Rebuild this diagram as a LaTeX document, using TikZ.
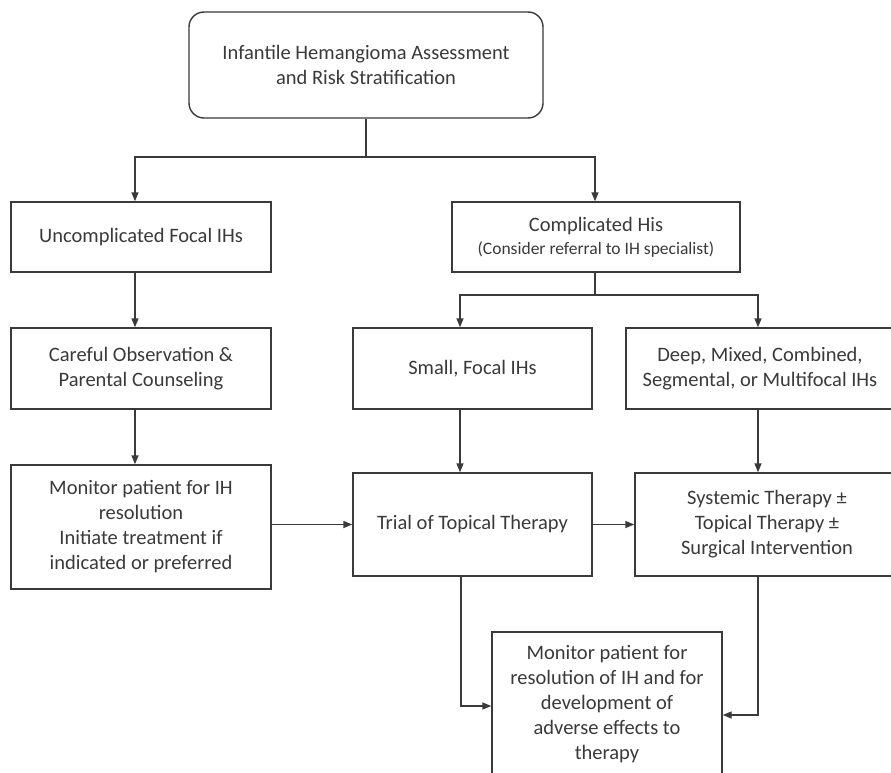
\documentclass[tikz,border=0pt]{standalone}
\usepackage{fontspec}
\setmainfont{Carlito}
\usepackage{tikz}
\usetikzlibrary{arrows.meta}

\definecolor{ink}{HTML}{3A3A3A}
\tikzset{
  box/.style={draw=ink,line width=1.4pt,text=ink,align=center,inner sep=0pt,
    font=\fontsize{20.5}{25}\selectfont},
  flow/.style={draw=ink,line width=1.4pt,-{Triangle[length=9pt,width=7pt]}}
}

\begin{document}
\begin{tikzpicture}[x=1pt,y=-1pt]
\useasboundingbox [fill=white] (0,0) rectangle (891,773);
\node [box,rounded corners=15pt,minimum width=354pt,minimum height=106pt] (assess) at (366,65)
  {Infantile Hemangioma Assessment\\and Risk Stratification};
\node [box,minimum width=260pt,minimum height=70pt] (uncomp) at (141,237) {Uncomplicated Focal IHs};
\node [box,minimum width=288pt,minimum height=70pt] (comp) at (596,237)
  {Complicated His\\[-2pt]{\fontsize{17.5}{22}\selectfont (Consider referral to IH specialist)}};
\node [box,minimum width=260pt,minimum height=81pt] (observe) at (141,368.5)
  {Careful Observation \&\\Parental Counseling};
\node [box,minimum width=239pt,minimum height=81pt] (small) at (472.5,368.5) {Small, Focal IHs};
\node [box,minimum width=268pt,minimum height=81pt] (deep) at (760,368.5)
  {Deep, Mixed, Combined,\\Segmental, or Multifocal IHs};
\node [box,minimum width=260pt,minimum height=124pt] (watch) at (141,527)
  {Monitor patient for IH\\resolution\\Initiate treatment if\\indicated or preferred};
\node [box,minimum width=239pt,minimum height=103pt] (topical) at (472.5,524.5) {Trial of Topical Therapy};
\node [box,minimum width=264pt,minimum height=103pt] (systemic) at (767,524.5)
  {Systemic Therapy \textpm\\Topical Therapy \textpm\\Surgical Intervention};
\node [box,minimum width=230pt,minimum height=144pt] (followup) at (607,704)
  {Monitor patient for\\resolution of IH and for\\development of\\adverse effects to\\therapy};
\coordinate (split) at (366,157);
\coordinate (fork) at (595,295);
\draw [flow] (assess.south) -- (split) -| ([xshift=-6pt]uncomp.north);
\draw [flow] (split) -| ([xshift=-1pt]comp.north);
\draw [flow] ([xshift=-6pt]uncomp.south) -- ([xshift=-6pt]observe.north);
\draw [flow] ([xshift=-6pt]observe.south) -- ([xshift=-6pt]watch.north);
\draw [flow] ([xshift=-1pt]comp.south) -- (fork) -| ([xshift=-12.5pt]small.north);
\draw [flow] (fork) -| ([xshift=-2pt]deep.north);
\draw [flow] ([xshift=-12.5pt]small.south) -- ([xshift=-12.5pt]topical.north);
\draw [flow] ([xshift=-2pt]deep.south) -- ([xshift=-9pt]systemic.north);
\draw [flow] (watch.east |- topical.west) -- (topical.west);
\draw [flow] (topical.east) -- (systemic.west);
\draw [flow] ([xshift=-11.5pt]topical.south) |- ([yshift=-2pt]followup.west);
\draw [flow] ([xshift=-9pt]systemic.south) |- ([yshift=-11pt]followup.east);
\end{tikzpicture}
\end{document}
